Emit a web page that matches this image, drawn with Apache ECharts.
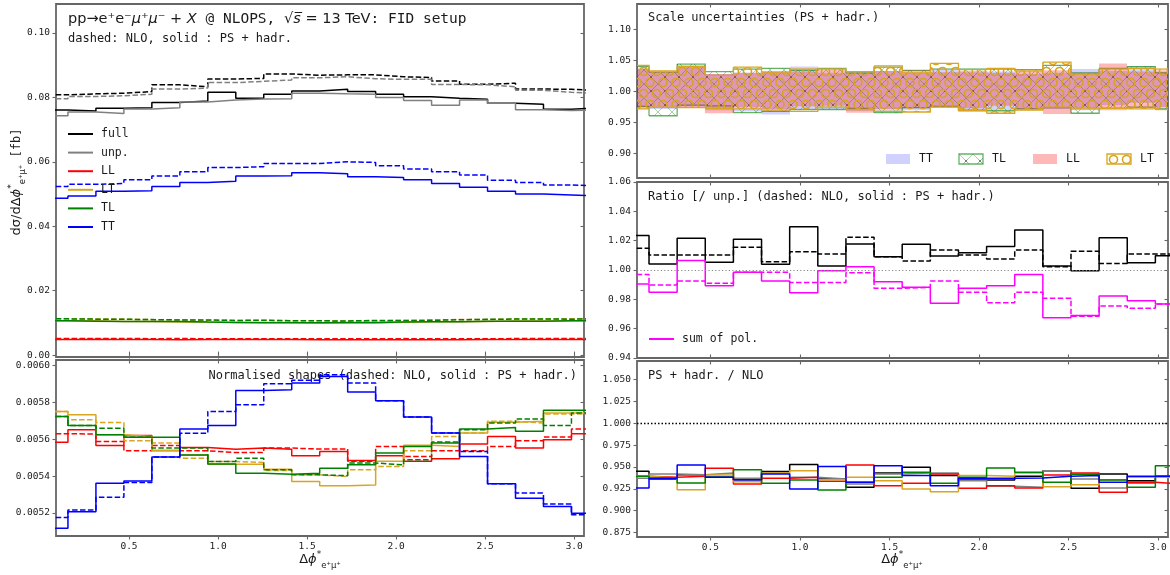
<!DOCTYPE html>
<html>
<head>
<meta charset="utf-8">
<script src="https://cdn.jsdelivr.net/npm/echarts@6.0.0/dist/echarts.min.js"></script>
<style>
  html, body { margin: 0; padding: 0; background: #fff; }
  #chart { width: 1170px; height: 575px; }
</style>
</head>
<body>
<div id="chart"></div>
<script>
// ---------- binning (20 bins of pi/20 in delta-phi) ----------
const BIN_EDGES = [0, 0.1571, 0.3142, 0.4712, 0.6283, 0.7854, 0.9425, 1.0996, 1.2566, 1.4137,
  1.5708, 1.7279, 1.8850, 2.0420, 2.1991, 2.3562, 2.5133, 2.6704, 2.8274, 2.9845, 3.1416];

// ---------- tick labels ----------
const X_TICKS = [0.5, 1.0, 1.5, 2.0, 2.5, 3.0];
const Y_TICKS_XSEC = [0, 0.02, 0.04, 0.06, 0.08, 0.10];
const Y_TICKS_SHAPE = [0.0052, 0.0054, 0.0056, 0.0058, 0.0060];
const Y_TICKS_SCALE = [0.90, 0.95, 1.00, 1.05, 1.10];
const Y_TICKS_RATIO = [0.94, 0.96, 0.98, 1.00, 1.02, 1.04, 1.06];
const Y_TICKS_PSNLO = [0.875, 0.900, 0.925, 0.950, 0.975, 1.000, 1.025, 1.050];

// ---------- differential cross sections [fb] ----------
const FULL_NLO = [0.0808, 0.0811, 0.0813, 0.0818, 0.0839, 0.0833, 0.0857, 0.0859, 0.0873, 0.0869,
  0.0870, 0.0870, 0.0864, 0.0862, 0.0851, 0.0841, 0.0844, 0.0826, 0.0825, 0.0821];
const FULL_PS = [0.0761, 0.0758, 0.0766, 0.0768, 0.0784, 0.0789, 0.0816, 0.0797, 0.0810, 0.0820,
  0.0825, 0.0818, 0.0810, 0.0802, 0.0797, 0.0794, 0.0782, 0.0779, 0.0763, 0.0768];
const UNP_NLO = [0.0796, 0.0803, 0.0805, 0.0810, 0.0826, 0.0829, 0.0846, 0.0850, 0.0854, 0.0861,
  0.0864, 0.0858, 0.0856, 0.0856, 0.0840, 0.0839, 0.0833, 0.0822, 0.0816, 0.0812];
const UNP_PS = [0.0743, 0.0755, 0.0750, 0.0764, 0.0768, 0.0786, 0.0792, 0.0795, 0.0796, 0.0813,
  0.0811, 0.0810, 0.0800, 0.0790, 0.0776, 0.0792, 0.0782, 0.0762, 0.0759, 0.0761];
const LL_NLO = [0.00517, 0.00517, 0.00514, 0.00509, 0.00512, 0.00509, 0.00508, 0.00508, 0.00510, 0.00510,
  0.00510, 0.00504, 0.00511, 0.00506, 0.00509, 0.00509, 0.00511, 0.00514, 0.00516, 0.00520];
const LL_PS = [0.00483, 0.00489, 0.00481, 0.00486, 0.00479, 0.00481, 0.00480, 0.00480, 0.00480, 0.00477,
  0.00479, 0.00474, 0.00477, 0.00474, 0.00475, 0.00482, 0.00486, 0.00480, 0.00484, 0.00487];
const LT_NLO = [0.01130, 0.01121, 0.01118, 0.01098, 0.01096, 0.01080, 0.01076, 0.01075, 0.01066, 0.01062,
  0.01060, 0.01067, 0.01071, 0.01087, 0.01103, 0.01107, 0.01119, 0.01117, 0.01127, 0.01127];
const LT_PS = [0.01067, 0.01064, 0.01044, 0.01042, 0.01028, 0.01024, 0.01014, 0.01014, 0.01009, 0.00997,
  0.00992, 0.00993, 0.01017, 0.01033, 0.01032, 0.01046, 0.01056, 0.01057, 0.01066, 0.01066];
const TL_NLO = [0.01124, 0.01115, 0.01112, 0.01102, 0.01090, 0.01090, 0.01076, 0.01080, 0.01067, 0.01062,
  0.01061, 0.01074, 0.01073, 0.01078, 0.01097, 0.01110, 0.01117, 0.01121, 0.01114, 0.01128];
const TL_PS = [0.01062, 0.01053, 0.01044, 0.01041, 0.01041, 0.01024, 0.01014, 0.01005, 0.01004, 0.01005,
  0.01010, 0.01014, 0.01025, 0.01032, 0.01035, 0.01050, 0.01051, 0.01047, 0.01068, 0.01068];
const TT_NLO = [0.0523, 0.0530, 0.0533, 0.0544, 0.0556, 0.0569, 0.0582, 0.0585, 0.0595, 0.0595,
  0.0600, 0.0598, 0.0588, 0.0578, 0.0569, 0.0559, 0.0543, 0.0536, 0.0528, 0.0525];
const TT_PS = [0.0487, 0.0494, 0.0509, 0.0510, 0.0523, 0.0536, 0.0540, 0.0556, 0.0557, 0.0566,
  0.0563, 0.0554, 0.0551, 0.0544, 0.0533, 0.0521, 0.0509, 0.0500, 0.0497, 0.0494];

// ---------- normalised shapes ----------
const LL_NLO_SHAPE = [0.005630, 0.005628, 0.005588, 0.005537, 0.005566, 0.005537, 0.005528, 0.005528, 0.005552, 0.005547,
  0.005547, 0.005480, 0.005561, 0.005507, 0.005537, 0.005537, 0.005561, 0.005592, 0.005612, 0.005655];
const LL_PS_SHAPE = [0.005584, 0.005651, 0.005566, 0.005621, 0.005539, 0.005555, 0.005546, 0.005552, 0.005546, 0.005510,
  0.005534, 0.005485, 0.005510, 0.005480, 0.005494, 0.005574, 0.005615, 0.005552, 0.005597, 0.005630];
const LT_NLO_SHAPE = [0.005751, 0.005706, 0.005691, 0.005592, 0.005579, 0.005497, 0.005479, 0.005474, 0.005430, 0.005407,
  0.005398, 0.005434, 0.005452, 0.005537, 0.005615, 0.005634, 0.005697, 0.005688, 0.005737, 0.005737];
const LT_PS_SHAPE = [0.005751, 0.005733, 0.005624, 0.005615, 0.005537, 0.005515, 0.005465, 0.005465, 0.005437, 0.005371,
  0.005347, 0.005352, 0.005480, 0.005567, 0.005561, 0.005634, 0.005692, 0.005697, 0.005743, 0.005743];
const TL_NLO_SHAPE = [0.005724, 0.005675, 0.005660, 0.005611, 0.005552, 0.005552, 0.005479, 0.005497, 0.005434, 0.005407,
  0.005402, 0.005471, 0.005461, 0.005489, 0.005585, 0.005652, 0.005688, 0.005710, 0.005674, 0.005743];
const TL_PS_SHAPE = [0.005724, 0.005675, 0.005624, 0.005611, 0.005611, 0.005515, 0.005466, 0.005416, 0.005410, 0.005416,
  0.005443, 0.005461, 0.005525, 0.005561, 0.005579, 0.005655, 0.005664, 0.005643, 0.005757, 0.005757];
const TT_NLO_SHAPE = [0.005176, 0.005216, 0.005285, 0.005365, 0.005503, 0.005633, 0.005751, 0.005787, 0.005901, 0.005920,
  0.005950, 0.005905, 0.005809, 0.005721, 0.005634, 0.005534, 0.005358, 0.005308, 0.005248, 0.005190];
const TT_PS_SHAPE = [0.005117, 0.005207, 0.005361, 0.005374, 0.005503, 0.005655, 0.005675, 0.005865, 0.005869, 0.005905,
  0.005940, 0.005857, 0.005809, 0.005721, 0.005634, 0.005507, 0.005358, 0.005280, 0.005235, 0.005199];

// ---------- scale-uncertainty bands (PS + hadr.), relative ----------
const TT_BAND_LO = [0.975, 0.972, 0.976, 0.970, 0.968, 0.963, 0.972, 0.971, 0.969, 0.969,
  0.970, 0.974, 0.968, 0.970, 0.970, 0.972, 0.970, 0.978, 0.982, 0.972];
const TT_BAND_HI = [1.036, 1.030, 1.040, 1.028, 1.030, 1.032, 1.040, 1.030, 1.031, 1.033,
  1.030, 1.035, 1.031, 1.032, 1.028, 1.030, 1.036, 1.033, 1.041, 1.030];
const TL_BAND_LO = [0.976, 0.961, 0.978, 0.977, 0.966, 0.968, 0.971, 0.971, 0.973, 0.966,
  0.974, 0.976, 0.970, 0.969, 0.972, 0.974, 0.965, 0.973, 0.975, 0.972];
const TL_BAND_HI = [1.040, 1.031, 1.044, 1.032, 1.036, 1.037, 1.034, 1.037, 1.030, 1.039,
  1.034, 1.036, 1.036, 1.036, 1.035, 1.042, 1.030, 1.037, 1.040, 1.030];
const LL_BAND_LO = [0.972, 0.974, 0.975, 0.965, 0.975, 0.972, 0.976, 0.977, 0.966, 0.972,
  0.973, 0.975, 0.973, 0.977, 0.972, 0.964, 0.973, 0.970, 0.973, 0.975];
const LL_BAND_HI = [1.037, 1.032, 1.042, 1.028, 1.030, 1.033, 1.032, 1.035, 1.030, 1.033,
  1.034, 1.031, 1.033, 1.030, 1.033, 1.034, 1.030, 1.045, 1.032, 1.034];
const LT_BAND_LO = [0.972, 0.975, 0.974, 0.973, 0.972, 0.970, 0.968, 0.975, 0.971, 0.968,
  0.967, 0.975, 0.969, 0.965, 0.970, 0.975, 0.972, 0.973, 0.972, 0.971];
const LT_BAND_HI = [1.042, 1.033, 1.040, 1.026, 1.039, 1.030, 1.036, 1.036, 1.032, 1.041,
  1.030, 1.045, 1.035, 1.037, 1.033, 1.047, 1.028, 1.036, 1.037, 1.036];

// ---------- ratios to unpolarised ----------
const RATIO_FULL_NLO = [1.0148, 1.0102, 1.0102, 1.0102, 1.0155, 1.0057, 1.0125, 1.0109, 1.0223, 1.0091,
  1.0061, 1.0136, 1.0102, 1.0075, 1.0136, 1.0023, 1.0127, 1.0045, 1.0109, 1.0109];
const RATIO_FULL_PS = [1.0236, 1.0041, 1.0216, 1.0052, 1.0209, 1.0039, 1.0295, 1.0027, 1.0177, 1.0091,
  1.0175, 1.0095, 1.0118, 1.0161, 1.0273, 1.0027, 0.9995, 1.0220, 1.0050, 1.0098];
const RATIO_POL_NLO = [0.9970, 0.9898, 0.9925, 0.9909, 0.9984, 0.9984, 0.9914, 0.9914, 0.9982, 0.9875,
  0.9882, 0.9925, 0.9848, 0.9777, 0.9848, 0.9807, 0.9684, 0.9755, 0.9739, 0.9768];
const RATIO_POL_PS = [0.9905, 0.9848, 1.0064, 0.9893, 0.9984, 0.9925, 0.9845, 0.9995, 1.0023, 0.9920,
  0.9882, 0.9773, 0.9875, 0.9893, 0.9970, 0.9675, 0.9689, 0.9823, 0.9791, 0.9768];

// ---------- PS + hadr. / NLO ----------
const PSNLO_FULL = [0.9450, 0.9363, 0.9412, 0.9382, 0.9355, 0.9447, 0.9527, 0.9363, 0.9267, 0.9431,
  0.9496, 0.9401, 0.9351, 0.9351, 0.9393, 0.9458, 0.9256, 0.9420, 0.9343, 0.9393];
const PSNLO_UNP = [0.9370, 0.9420, 0.9412, 0.9431, 0.9370, 0.9431, 0.9382, 0.9363, 0.9305, 0.9420,
  0.9431, 0.9431, 0.9343, 0.9279, 0.9267, 0.9458, 0.9363, 0.9260, 0.9313, 0.9393];
const PSNLO_LL = [0.9393, 0.9382, 0.9393, 0.9485, 0.9305, 0.9370, 0.9382, 0.9336, 0.9523, 0.9286,
  0.9313, 0.9420, 0.9256, 0.9286, 0.9260, 0.9408, 0.9431, 0.9210, 0.9324, 0.9305];
const PSNLO_LT = [0.9393, 0.9374, 0.9240, 0.9408, 0.9332, 0.9431, 0.9458, 0.9355, 0.9382, 0.9343,
  0.9248, 0.9218, 0.9401, 0.9393, 0.9431, 0.9275, 0.9298, 0.9355, 0.9382, 0.9382];
const PSNLO_TL = [0.9393, 0.9370, 0.9317, 0.9382, 0.9469, 0.9313, 0.9351, 0.9237, 0.9324, 0.9382,
  0.9439, 0.9313, 0.9382, 0.9489, 0.9439, 0.9324, 0.9416, 0.9351, 0.9267, 0.9515];
const PSNLO_TT = [0.9260, 0.9370, 0.9523, 0.9382, 0.9355, 0.9420, 0.9248, 0.9504, 0.9324, 0.9515,
  0.9401, 0.9286, 0.9370, 0.9370, 0.9374, 0.9393, 0.9401, 0.9324, 0.9393, 0.9393];

// ---------- styling ----------
const MONO = "'DejaVu Sans Mono', monospace";
const MATH = "'DejaVu Sans', sans-serif";
const FRAME = '#666666';
const INK = '#1a1a1a';
const DASH = [5.5, 2.4];
const C = {
  full: '#000000', unp: '#808080', LL: '#ff0000', LT: '#daa520',
  TL: '#008000', TT: '#0000ff', pol: '#ff00ff'
};

const X_RANGE = [0.09, 3.055];
const PANELS = [
  { grid: { left: 56, top: 4, width: 528, height: 353 }, y: [-0.0006, 0.109], ticks: Y_TICKS_XSEC, dec: 2, bottom: false },
  { grid: { left: 56, top: 360, width: 528, height: 176 }, y: [0.005075, 0.00603], ticks: Y_TICKS_SHAPE, dec: 4, bottom: true },
  { grid: { left: 637, top: 4, width: 531, height: 174 }, y: [0.861, 1.1405], ticks: Y_TICKS_SCALE, dec: 2, bottom: false },
  { grid: { left: 637, top: 182, width: 531, height: 176 }, y: [0.94, 1.06], ticks: Y_TICKS_RATIO, dec: 2, bottom: false },
  { grid: { left: 637, top: 361, width: 531, height: 176 }, y: [0.870, 1.071], ticks: Y_TICKS_PSNLO, dec: 3, bottom: true }
];

const grids = [], xAxes = [], yAxes = [];
PANELS.forEach((p, g) => {
  grids.push(Object.assign({ show: true, borderColor: FRAME, borderWidth: 1.8, backgroundColor: 'transparent' }, p.grid));
  const tickStyle = { color: FRAME, width: 1.1 };
  const labelStyle = { fontFamily: MONO, fontSize: 9.5, color: INK };
  xAxes.push({
    type: 'value', gridIndex: g, position: 'bottom', min: X_RANGE[0], max: X_RANGE[1],
    axisLine: { show: false }, splitLine: { show: false },
    axisTick: { show: true, inside: !p.bottom, length: 3.5, lineStyle: tickStyle, customValues: X_TICKS },
    axisLabel: Object.assign({ show: p.bottom, margin: 6, customValues: X_TICKS, formatter: v => v.toFixed(1) }, labelStyle)
  });
  xAxes.push({
    type: 'value', gridIndex: g, position: 'top', min: X_RANGE[0], max: X_RANGE[1],
    axisLine: { show: false }, splitLine: { show: false },
    axisTick: { show: true, inside: true, length: 3.5, lineStyle: tickStyle, customValues: X_TICKS },
    axisLabel: { show: false }
  });
  yAxes.push({
    type: 'value', gridIndex: g, position: 'left', min: p.y[0], max: p.y[1],
    axisLine: { show: false }, splitLine: { show: false },
    axisTick: { show: true, inside: false, length: 3.5, lineStyle: tickStyle, customValues: p.ticks },
    axisLabel: Object.assign({ show: true, margin: 6, customValues: p.ticks, formatter: v => v.toFixed(p.dec) }, labelStyle)
  });
  yAxes.push({
    type: 'value', gridIndex: g, position: 'right', min: p.y[0], max: p.y[1],
    axisLine: { show: false }, splitLine: { show: false },
    axisTick: { show: true, inside: true, length: 3.5, lineStyle: tickStyle, customValues: p.ticks },
    axisLabel: { show: false }
  });
});

// histogram values -> step points at the bin edges
function stepPoints(vals) {
  const pts = vals.map((v, i) => [BIN_EDGES[i], v]);
  pts.push([BIN_EDGES[vals.length], vals[vals.length - 1]]);
  return pts;
}

function stepLine(name, vals, color, dashed, g, extra) {
  return Object.assign({
    type: 'line', name, xAxisIndex: 2 * g, yAxisIndex: 2 * g,
    step: 'end', data: stepPoints(vals), showSymbol: false, symbol: 'none',
    lineStyle: { color, width: 1.5, type: dashed ? DASH : 'solid' },
    itemStyle: { color }, animation: false, silent: true
  }, extra || {});
}

// hatch tiles for the banded uncertainties
function hatchTile(kind) {
  const cv = document.createElement('canvas');
  const ctx = cv.getContext('2d');
  if (kind === 'x') {
    cv.width = 14; cv.height = 14;
    ctx.strokeStyle = 'rgba(0,128,0,0.35)';
    ctx.lineWidth = 1;
    ctx.beginPath();
    ctx.moveTo(0, 0); ctx.lineTo(14, 14);
    ctx.moveTo(0, 14); ctx.lineTo(14, 0);
    ctx.stroke();
    // small dark cross where the diagonals meet
    ctx.strokeStyle = 'rgba(70,70,70,0.55)';
    ctx.beginPath();
    ctx.moveTo(5.8, 5.8); ctx.lineTo(8.2, 8.2);
    ctx.moveTo(5.8, 8.2); ctx.lineTo(8.2, 5.8);
    ctx.stroke();
  } else {
    cv.width = 13; cv.height = 22;
    ctx.strokeStyle = '#d9a21f';
    ctx.lineWidth = 1.6;
    [[6.5, 5.5], [0, 16.5], [13, 16.5]].forEach(([cx, cy]) => {
      ctx.beginPath(); ctx.arc(cx, cy, 4, 0, Math.PI * 2); ctx.stroke();
    });
  }
  return cv;
}
const TL_FILL = { image: hatchTile('x'), repeat: 'repeat' };
const LT_FILL = { image: hatchTile('o'), repeat: 'repeat' };
const TT_FILL = 'rgba(0,0,255,0.18)';
const LL_FILL = 'rgba(255,0,0,0.28)';

function bandSeries(name, lo, hi, fill, stroke) {
  return {
    type: 'custom', name, xAxisIndex: 4, yAxisIndex: 4, silent: true, animation: false,
    data: lo.map((l, i) => [BIN_EDGES[i], BIN_EDGES[i + 1], l, hi[i]]),
    encode: { x: [0, 1], y: [2, 3] },
    renderItem(params, api) {
      const i = params.dataIndex;
      const x0 = Math.max(api.value(0), X_RANGE[0]);
      const x1 = Math.min(api.value(1), X_RANGE[1]);
      const l = api.value(2), h = api.value(3);
      const a = api.coord([x0, h]), b = api.coord([x1, l]);
      const left = Math.round(a[0]), right = Math.round(b[0]);
      const children = [{
        type: 'rect',
        shape: { x: left, y: a[1], width: right - left, height: b[1] - a[1] },
        style: { fill, stroke: null }
      }];
      if (stroke) {
        const up = [[x0, h], [x1, h]];
        const dn = [[x0, l], [x1, l]];
        if (i < lo.length - 1 && api.value(1) < X_RANGE[1]) {
          up.push([x1, hi[i + 1]]);
          dn.push([x1, lo[i + 1]]);
        }
        [up, dn].forEach(seg => children.push({
          type: 'polyline',
          shape: { points: seg.map(p => api.coord(p)) },
          style: { stroke, lineWidth: 1.3, fill: 'none' }
        }));
      }
      return { type: 'group', children };
    }
  };
}

const series = [];
// panel 0: differential cross sections
[['full', FULL_NLO, FULL_PS, C.full], ['unp.', UNP_NLO, UNP_PS, C.unp], ['LL', LL_NLO, LL_PS, C.LL],
 ['LT', LT_NLO, LT_PS, C.LT], ['TL', TL_NLO, TL_PS, C.TL], ['TT', TT_NLO, TT_PS, C.TT]].forEach(([n, nlo, ps, col]) => {
  series.push(stepLine(n + ' NLO', nlo, col, true, 0));
  series.push(stepLine(n, ps, col, false, 0));
});
// panel 1: normalised shapes
[['LL', LL_NLO_SHAPE, LL_PS_SHAPE, C.LL], ['LT', LT_NLO_SHAPE, LT_PS_SHAPE, C.LT],
 ['TL', TL_NLO_SHAPE, TL_PS_SHAPE, C.TL], ['TT', TT_NLO_SHAPE, TT_PS_SHAPE, C.TT]].forEach(([n, nlo, ps, col]) => {
  series.push(stepLine(n + ' shape NLO', nlo, col, true, 1));
  series.push(stepLine(n + ' shape PS', ps, col, false, 1));
});
// panel 2: scale-uncertainty bands
series.push(bandSeries('TT band', TT_BAND_LO, TT_BAND_HI, TT_FILL, null));
series.push(bandSeries('TL band', TL_BAND_LO, TL_BAND_HI, TL_FILL, 'rgba(0,128,0,0.6)'));
series.push(bandSeries('LL band', LL_BAND_LO, LL_BAND_HI, LL_FILL, null));
series.push(bandSeries('LT band', LT_BAND_LO, LT_BAND_HI, LT_FILL, '#daa520'));
// panel 3: ratios to unpolarised
series.push(stepLine('full / unp. NLO', RATIO_FULL_NLO, C.full, true, 3, {
  markLine: {
    silent: true, symbol: ['none', 'none'], label: { show: false }, animation: false,
    lineStyle: { color: '#888', width: 1, type: [1.2, 2.2] }, data: [{ yAxis: 1 }]
  }
}));
series.push(stepLine('full / unp. PS', RATIO_FULL_PS, C.full, false, 3));
series.push(stepLine('sum of pol. NLO', RATIO_POL_NLO, C.pol, true, 3));
series.push(stepLine('sum of pol.', RATIO_POL_PS, C.pol, false, 3));
// panel 4: PS + hadr. / NLO
series.push(stepLine('full PS/NLO', PSNLO_FULL, C.full, false, 4, {
  markLine: {
    silent: true, symbol: ['none', 'none'], label: { show: false }, animation: false,
    lineStyle: { color: '#000', width: 1.3, type: [1.5, 2] }, data: [{ yAxis: 1 }]
  }
}));
series.push(stepLine('unp. PS/NLO', PSNLO_UNP, C.unp, false, 4));
series.push(stepLine('LL PS/NLO', PSNLO_LL, C.LL, false, 4));
series.push(stepLine('LT PS/NLO', PSNLO_LT, C.LT, false, 4));
series.push(stepLine('TL PS/NLO', PSNLO_TL, C.TL, false, 4));
series.push(stepLine('TT PS/NLO', PSNLO_TT, C.TT, false, 4));

const LEGEND_TEXT = { fontFamily: MONO, fontSize: 11.5, color: INK, lineHeight: 14, padding: [0, 0, 0, 3] };

const SUB_RICH = {
  m: { fontFamily: MATH, fontSize: 13, fill: INK, lineHeight: 20 },
  mi: { fontFamily: MATH, fontSize: 13, fontStyle: 'italic', fill: INK, lineHeight: 20 },
  sup: { fontFamily: MATH, fontSize: 9, fill: INK, verticalAlign: 'top', lineHeight: 12 },
  sub: { fontFamily: MATH, fontSize: 8.5, fill: INK, verticalAlign: 'bottom', lineHeight: 10 },
  t: { fontFamily: MONO, fontSize: 12, fill: INK, lineHeight: 20 }
};

const TITLE_RICH = {
  r: { fontFamily: MATH, fontSize: 14.5, fill: INK },
  i: { fontFamily: MATH, fontSize: 14.5, fontStyle: 'italic', fill: INK },
  m: { fontFamily: MONO, fontSize: 14.5, fill: INK }
};

function monoText(x, y, text, align) {
  return {
    type: 'text', x, y, silent: true,
    style: { text, fontFamily: MONO, fontSize: 12, fill: INK, align: align || 'left', verticalAlign: 'middle' }
  };
}

const bandLegend = [];
[['TT', 886, TT_FILL, null], ['TL', 959, TL_FILL, 'rgba(0,128,0,0.6)'],
 ['LL', 1033, LL_FILL, null], ['LT', 1107, LT_FILL, '#daa520']].forEach(([label, x, fill, stroke]) => {
  bandLegend.push({
    type: 'rect', x, y: 154, silent: true,
    shape: { x: 0, y: 0, width: 24, height: 10 },
    style: { fill, stroke: stroke, lineWidth: stroke ? 1.3 : 0 }
  });
  bandLegend.push({
    type: 'text', x: x + 33, y: 159, silent: true,
    style: { text: label, fontFamily: MONO, fontSize: 11.5, fill: INK, verticalAlign: 'middle' }
  });
});

const option = {
  animation: false,
  backgroundColor: '#ffffff',
  grid: grids,
  xAxis: xAxes,
  yAxis: yAxes,
  legend: [
    {
      data: ['full', 'unp.', 'LL', 'LT', 'TL', 'TT'], orient: 'vertical', left: 68, top: 127,
      padding: 0, icon: 'rect', itemWidth: 25, itemHeight: 2, itemGap: 4.6,
      selectedMode: false, textStyle: LEGEND_TEXT
    },
    {
      data: ['sum of pol.'], orient: 'vertical', left: 649, top: 332,
      padding: 0, icon: 'rect', itemWidth: 25, itemHeight: 2,
      selectedMode: false, textStyle: LEGEND_TEXT
    }
  ],
  graphic: [
    {
      type: 'text', x: 68, y: 19, silent: true,
      style: {
        text: '{r|pp→e⁺e⁻}{i|μ}{r|⁺}{i|μ}{r|⁻ + }{i|X}{m| @ NLOPS, }{r|√}{i|s̅}{r| = 13 TeV}{m|: FID setup}',
        rich: TITLE_RICH, verticalAlign: 'middle'
      }
    },
    monoText(68, 39, 'dashed: NLO, solid : PS + hadr.'),
    monoText(577, 376, 'Normalised shapes (dashed: NLO, solid : PS + hadr.)', 'right'),
    monoText(648, 18, 'Scale uncertainties (PS + hadr.)'),
    monoText(648, 197, 'Ratio [/ unp.] (dashed: NLO, solid : PS + hadr.)'),
    monoText(648, 376, 'PS + hadr. / NLO'),
    {
      type: 'text', x: 17, y: 182, rotation: Math.PI / 2, silent: true,
      style: {
        text: '{m|dσ/dΔ}{mi|ϕ}{sup|*}{sub|e⁺μ⁺}{t| [fb]}',
        rich: SUB_RICH, align: 'center', verticalAlign: 'middle'
      }
    },
    {
      type: 'text', x: 320, y: 560, silent: true,
      style: {
        text: '{m|Δ}{mi|ϕ}{sup|*}{sub|e⁺μ⁺}', rich: SUB_RICH, align: 'center', verticalAlign: 'middle'
      }
    },
    {
      type: 'text', x: 902, y: 560, silent: true,
      style: {
        text: '{m|Δ}{mi|ϕ}{sup|*}{sub|e⁺μ⁺}', rich: SUB_RICH, align: 'center', verticalAlign: 'middle'
      }
    }
  ].concat(bandLegend),
  series
};

const chart = echarts.init(document.getElementById('chart'), null, { renderer: 'canvas' });
chart.setOption(option);
</script>
</body>
</html>
